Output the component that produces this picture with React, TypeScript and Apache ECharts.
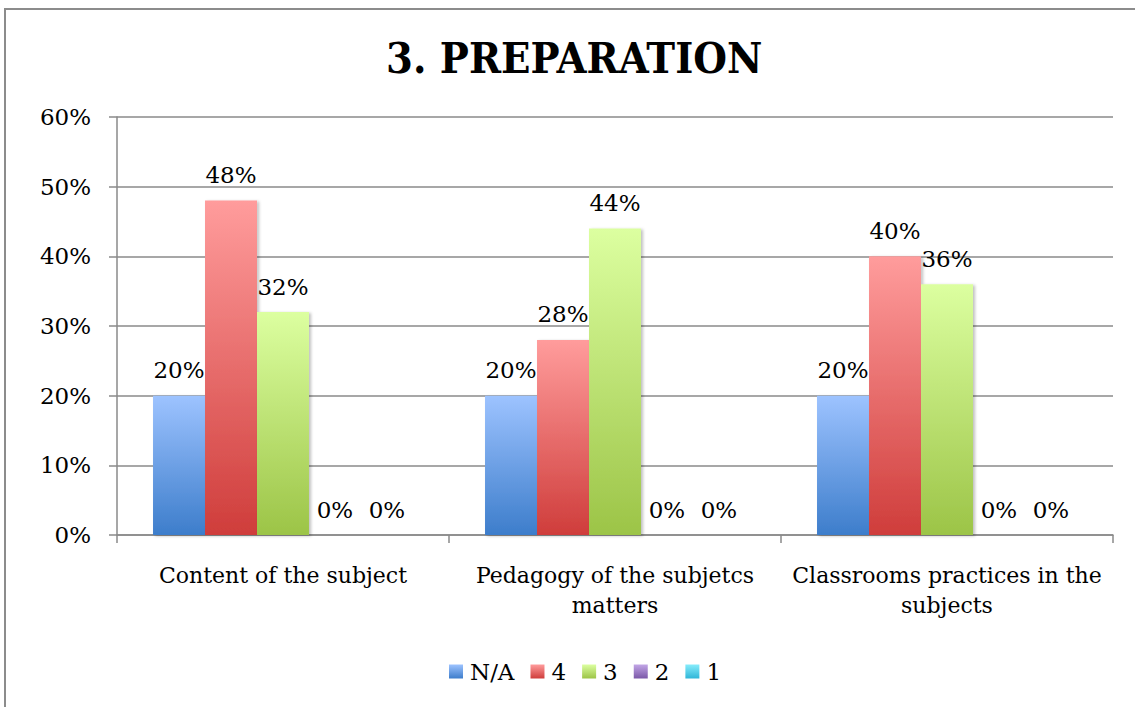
import React, { useEffect, useRef } from "react";
import * as echarts from "echarts";

const title = "3. PREPARATION";
const categories = ["Content of the subject", "Pedagogy of the subjetcs\nmatters", "Classrooms practices in the\nsubjects"];
const seriesNames = ["N/A", "4", "3", "2", "1"];
const valuesNA = [0.2, 0.2, 0.2];
const values4 = [0.48, 0.28, 0.4];
const values3 = [0.32, 0.44, 0.36];
const values2 = [0, 0, 0];
const values1 = [0, 0, 0];
const yTicks = { min: 0, max: 0.6, interval: 0.1 };

const gradients: [string, string][] = [
  ["#9dc3ff", "#3d7dcb"],
  ["#ff9c9c", "#cf3d3b"],
  ["#dcffa0", "#9cc447"],
  ["#c2a6e6", "#7b58a8"],
  ["#86ecfb", "#2fb6d8"],
];

const FONT = "DejaVu Serif";

export default function App() {
  const ref = useRef<HTMLDivElement>(null);
  useEffect(() => {
    document.body.style.margin = "0";
    const chart = echarts.init(ref.current!, null, { renderer: "svg" });
    const all = [valuesNA, values4, values3, values2, values1];
    chart.setOption({
      animation: false,
      backgroundColor: "#ffffff",
      textStyle: { fontFamily: FONT },
      title: {
        text: title,
        left: 381,
        top: 31,
        textStyle: { fontFamily: "DejaVu Serif Condensed, DejaVu Serif", fontWeight: "bold", fontSize: 43, color: "#000" },
      },
      graphic: [
        {
          type: "rect",
          shape: { x: 5, y: 9, width: 1150, height: 720 },
          style: { fill: "none", stroke: "#8c8c8c", lineWidth: 2 },
          silent: true,
        },
      ],
      legend: {
        bottom: 19,
        left: 444,
        itemWidth: 14,
        itemHeight: 14,
        itemGap: 16,
        icon: "rect",
        textStyle: { fontFamily: FONT, fontSize: 23, color: "#000", padding: [0, 0, 0, 2] },
        data: seriesNames,
      },
      grid: { left: 117, right: 22, top: 117, bottom: 172, containLabel: false },
      xAxis: {
        type: "category",
        data: categories,
        axisLine: { show: true, lineStyle: { color: "#8a8a8a", width: 1.5 } },
        axisTick: { show: true, length: 8, lineStyle: { color: "#8a8a8a", width: 1.5 } },
        axisLabel: { interval: 0, fontFamily: FONT, fontSize: 22, color: "#000", margin: 25, lineHeight: 30 },
      },
      yAxis: {
        type: "value",
        min: yTicks.min,
        max: yTicks.max,
        interval: yTicks.interval,
        axisLine: { show: true, lineStyle: { color: "#8a8a8a", width: 1.5 } },
        axisTick: { show: true, length: 8, lineStyle: { color: "#8a8a8a", width: 1.5 } },
        splitLine: { show: true, lineStyle: { color: "#8a8a8a", width: 1.5 } },
        axisLabel: {
          fontFamily: FONT,
          fontSize: 23,
          color: "#000",
          margin: 26,
          formatter: (v: number) => Math.round(v * 100) + "%",
        },
      },
      series: seriesNames.map((name, i) => ({
        name,
        type: "bar",
        data: all[i],
        barGap: "0%",
        barCategoryGap: "21.7%",
        itemStyle: {
          color: {
            type: "linear",
            x: 0,
            y: 0,
            x2: 0,
            y2: 1,
            colorStops: [
              { offset: 0, color: gradients[i][0] },
              { offset: 1, color: gradients[i][1] },
            ],
          },
          shadowColor: "rgba(0,0,0,0.25)",
          shadowBlur: 3,
          shadowOffsetX: 2,
          shadowOffsetY: 1,
        },
        label: {
          show: true,
          position: "top",
          distance: 14,
          fontFamily: FONT,
          fontSize: 23,
          color: "#000",
          formatter: (p: any) => Math.round(p.value * 100) + "%",
        },
      })),
    });
    return () => chart.dispose();
  }, []);
  return <div ref={ref} style={{ width: 1135, height: 707 }} />;
}
